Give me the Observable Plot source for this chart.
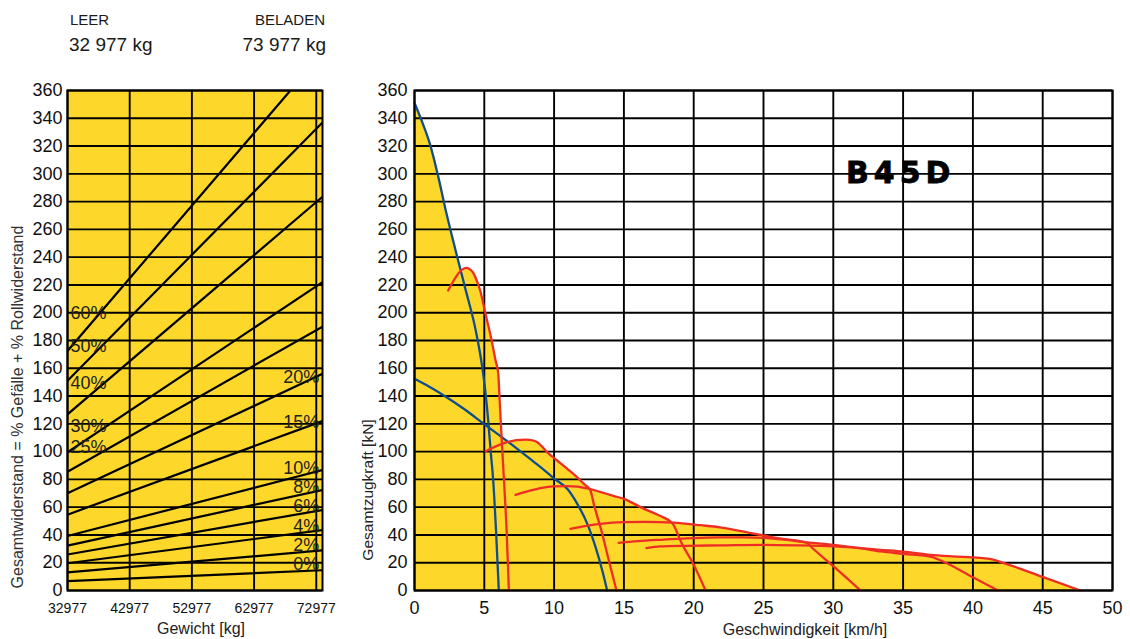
<!DOCTYPE html>
<html><head><meta charset="utf-8">
<script src="https://cdn.jsdelivr.net/npm/d3@7"></script>
<script src="https://cdn.jsdelivr.net/npm/@observablehq/plot@0.6"></script>
<style>
body{margin:0;background:#fff;font-family:"Liberation Sans",Arial,Helvetica,sans-serif;color:#1a1a1a}
#wrap{position:relative;width:1130px;height:639px;overflow:hidden;background:#fff}
.abs{position:absolute;white-space:nowrap;line-height:1}
#wrap svg{position:absolute;overflow:visible}
</style></head><body><div id="wrap"></div>
<script>
// ---------- data: left chart (Gesamtwiderstand vs Gewicht) ----------
const weightLeer = 32977;
const weightBeladen = 73977;
const weightTicks = [32977, 42977, 52977, 62977, 72977];
const forceTicks = [0,20,40,60,80,100,120,140,160,180,200,220,240,260,280,300,320,340,360];
const grades        = ["0%","2%","4%","6%","8%","10%","15%","20%","25%","30%","40%","50%","60%"];
const gradeNum      = [0, 2, 4, 6, 8, 10, 15, 20, 25, 30, 40, 50, 60];
const resistLeer    = [6.8, 13.0, 19.6, 25.9, 32.3, 39.2, 54.6, 70.0, 85.5, 99.5, 126.8, 151.0, 172.5];
const resistBeladen = [14.6, 28.9, 43.5, 58.0, 72.4, 86.7, 122.0, 156.0, 190.0, 222.0, 283.5, 337.0, 387.0];

// ---------- data: right chart (Gesamtzugkraft vs Geschwindigkeit) ----------
const speedTicks = [0,5,10,15,20,25,30,35,40,45,50];
const blueBrake1 = [[0,351],[0.6,336],[1.15,320],[1.7,298],[2.3,271],[2.94,245],[3.65,217],[4.37,188],[4.85,161],[5.09,142],[5.3,120],[5.45,101],[5.64,79],[5.85,41],[6.04,0]];
const blueBrake2 = [[0,152.5],[1.0,147],[2.1,140.4],[3.5,131],[4.97,120],[6.9,105.6],[8.5,93],[9.03,88.8],[10.03,80.4],[10.94,73.2],[11.66,62.4],[12.38,48],[12.97,31.2],[13.45,14.4],[13.8,0]];
const gear1 = [[2.41,216],[3.72,232.3],[4.0,231],[4.25,228],[4.5,222],[4.73,215],[5.09,199],[5.44,184],[5.8,166],[6.0,156],[6.1,137],[6.25,108],[6.45,72],[6.6,43],[6.76,0]];
const gear2 = [[5.09,100.3],[6.0,104.5],[6.64,106.8],[7.3,108.3],[7.96,108.7],[8.5,108],[8.8,106.8],[9.2,103],[9.5,99.6],[10.22,93.6],[10.95,87.6],[11.6,82],[12.13,76.8],[12.6,72],[12.84,62.4],[13.1,53],[13.32,45.6],[13.92,21.6],[14.47,0]];
const gear3 = [[7.24,68.9],[8.5,72.5],[9.99,74.9],[10.95,75.1],[12.38,73.6],[13.3,71],[14.3,68],[15.0,66],[16.3,59.5],[17.2,55.5],[17.9,52.3],[18.3,50],[18.57,47],[18.8,42],[19.05,36],[20.0,18.5],[20.85,0]];
const gear4 = [[11.17,44.4],[12.3,46.5],[13.33,48],[15,49.2],[16.5,49.4],[18.57,48.8],[20.5,47],[21.9,45.5],[23.5,42.5],[25.02,39.6],[26.5,37],[27.6,35.6],[28.1,34.4],[28.5,30.6],[30,17.5],[31.95,0]];
const gear5 = [[14.63,34.3],[16,35.5],[17.6,36.5],[20,37.7],[21.9,38.2],[23.5,38.3],[25.02,37.9],[26.5,36.6],[28.1,34.6],[30.04,32.9],[32,30.4],[33.4,28.1],[35,26.4],[37.1,24],[37.5,22.5],[40,9.6],[41.8,0]];
const gear6 = [[16.62,30.5],[17.6,31.7],[19.5,32.2],[21.9,32.5],[25.02,32.9],[27.5,32.5],[30.04,31.7],[32,30.5],[33.4,29.3],[35,28],[36.96,25.7],[38.5,24.6],[40.5,23.5],[41.3,22.6],[42,20.5],[45.04,9.6],[47.7,0]];

// ---------- styles ----------
const YELLOW = "#FDD82B";
const RED = "#EE2E25";
const BLUE = "#0E4E8C";
const FONT = "'Liberation Sans', Arial, Helvetica, sans-serif";

const wrap = document.getElementById("wrap");

// ---------- left chart ----------
const gradeRows = grades.map((g, i) => ({grade: g, num: gradeNum[i], leer: resistLeer[i], beladen: resistBeladen[i]}));
const gradeLines = gradeRows.flatMap(r => [
  {grade: r.grade, w: weightLeer, F: r.leer},
  {grade: r.grade, w: weightBeladen, F: r.beladen}
]);
const valAtW = (r, w) => r.leer + (r.beladen - r.leer) * (w - weightLeer) / (weightBeladen - weightLeer);
const leftLabels = gradeRows.filter(r => r.num >= 25).map(r => ({grade: r.grade, w: weightLeer, F: valAtW(r, 36700)}));
const rightLabels = gradeRows.filter(r => r.num < 25).map(r => ({grade: r.grade, w: weightTicks[weightTicks.length - 1], F: valAtW(r, 70500)}));

const gridStyle = {stroke: "#000", strokeOpacity: 1, strokeWidth: 1.9};

const left = Plot.plot({
  width: 340, height: 559,
  marginLeft: 67, marginRight: 18, marginTop: 10, marginBottom: 49,
  x: {domain: [weightLeer, weightBeladen], label: null},
  y: {domain: [0, 360], label: null},
  style: {fontFamily: FONT, fontSize: "18px", color: "#111", background: "transparent", overflow: "visible"},
  marks: [
    Plot.frame({fill: YELLOW}),
    Plot.gridX(weightTicks, gridStyle),
    Plot.gridY(forceTicks, gridStyle),
    Plot.axisY(forceTicks, {tickSize: 0, tickPadding: 5, fontSize: 18, label: null}),
    Plot.axisX(weightTicks, {tickSize: 0, tickPadding: 13, fontSize: 14, label: null, tickFormat: d => String(d)}),
    Plot.line(gradeLines, {x: "w", y: "F", z: "grade", stroke: "#000", strokeWidth: 2.2, clip: true}),
    Plot.text(leftLabels, {x: "w", y: "F", text: "grade", textAnchor: "start", dx: 3, dy: -11, fontSize: 18, fill: "#222"}),
    Plot.text(rightLabels, {x: "w", y: "F", text: "grade", textAnchor: "end", dx: 3, dy: -7, fontSize: 18, fill: "#222"}),
    Plot.frame({stroke: "#000", strokeWidth: 2})
  ]
});
left.style.left = "0px"; left.style.top = "80px";
wrap.appendChild(left);

// ---------- right chart ----------
const allCurves = [blueBrake1, blueBrake2, gear1, gear2, gear3, gear4, gear5, gear6];
function valueAt(curve, v) {
  if (v < curve[0][0] || v > curve[curve.length - 1][0]) return 0;
  for (let i = 1; i < curve.length; i++) {
    if (v <= curve[i][0]) {
      const [v0, f0] = curve[i - 1], [v1, f1] = curve[i];
      return v1 === v0 ? f1 : f0 + (f1 - f0) * (v - v0) / (v1 - v0);
    }
  }
  return 0;
}
const vMax = d3.max(allCurves, c => c[c.length - 1][0]);
const samples = Array.from(new Set([...d3.range(0, vMax, 0.02), ...allCurves.flatMap(c => c.map(p => p[0])), vMax])).sort((a, b) => a - b);
const envelope = samples.map(v => ({v, F: d3.max(allCurves, c => valueAt(c, v))}));

const gears = [gear1, gear2, gear3, gear4, gear5, gear6];
const brakes = [blueBrake1, blueBrake2];
const right = Plot.plot({
  width: 790, height: 559,
  marginLeft: 74, marginRight: 18, marginTop: 10, marginBottom: 49,
  x: {domain: [0, 50], label: null},
  y: {domain: [0, 360], label: null},
  style: {fontFamily: FONT, fontSize: "18px", color: "#111", background: "transparent", overflow: "visible"},
  marks: [
    Plot.areaY(envelope, {x: "v", y: "F", fill: YELLOW, curve: "linear"}),
    Plot.gridX(speedTicks, gridStyle),
    Plot.gridY(forceTicks, gridStyle),
    Plot.axisY(forceTicks, {tickSize: 0, tickPadding: 7, fontSize: 18, label: null}),
    Plot.axisX(speedTicks, {tickSize: 0, tickPadding: 11, fontSize: 18, label: null}),
    ...brakes.map(c => Plot.line(c, {x: d => d[0], y: d => d[1], stroke: BLUE, strokeWidth: 2.3, curve: "monotone-x"})),
    ...gears.map(c => Plot.line(c, {x: d => d[0], y: d => d[1], stroke: RED, strokeWidth: 2.3, curve: "monotone-x"})),
    Plot.frame({stroke: "#000", strokeWidth: 2})
  ]
});
right.style.left = "340px"; right.style.top = "80px";
wrap.appendChild(right);

// ---------- html text ----------
function label(text, x, y, size, opts = {}) {
  const d = document.createElement("div");
  d.className = "abs";
  d.textContent = text;
  d.style.fontSize = size + "px";
  d.style.left = x + "px";
  d.style.top = y + "px";
  d.style.color = opts.color || "#1a1a1a";
  if (opts.weight) d.style.fontWeight = opts.weight;
  if (opts.family) d.style.fontFamily = opts.family;
  if (opts.spacing) d.style.letterSpacing = opts.spacing + "px";
  if (opts.stroke) d.style.webkitTextStroke = opts.stroke;
  const ax = opts.anchor === "end" ? "-100%" : opts.anchor === "middle" ? "-50%" : "0";
  d.style.transform = `translate(${ax}, -50%)` + (opts.rotate ? ` rotate(${opts.rotate}deg)` : "");
  wrap.appendChild(d);
  return d;
}
label("LEER", 70, 19, 15);
label(d3.format(",")(weightLeer).replace(",", " ") + " kg", 69, 44, 19);
label("BELADEN", 325, 19, 15, {anchor: "end"});
label(d3.format(",")(weightBeladen).replace(",", " ") + " kg", 326, 44, 19, {anchor: "end"});
label("Gewicht [kg]", 201, 629, 16, {anchor: "middle", color: "#222"});
label("Geschwindigkeit [km/h]", 805, 630, 16, {anchor: "middle", color: "#222"});
label("Gesamtwiderstand = % Gefälle + % Rollwiderstand", 18, 407, 16, {anchor: "middle", rotate: -90, color: "#333"});
label("Gesamtzugkraft [kN]", 368, 490, 15.5, {anchor: "middle", rotate: -90, color: "#222"});
label("B45D", 846, 173, 30, {weight: "bold", family: "'DejaVu Sans', sans-serif", spacing: 5, stroke: "0.8px #000", color: "#000"});
</script>
</body></html>
